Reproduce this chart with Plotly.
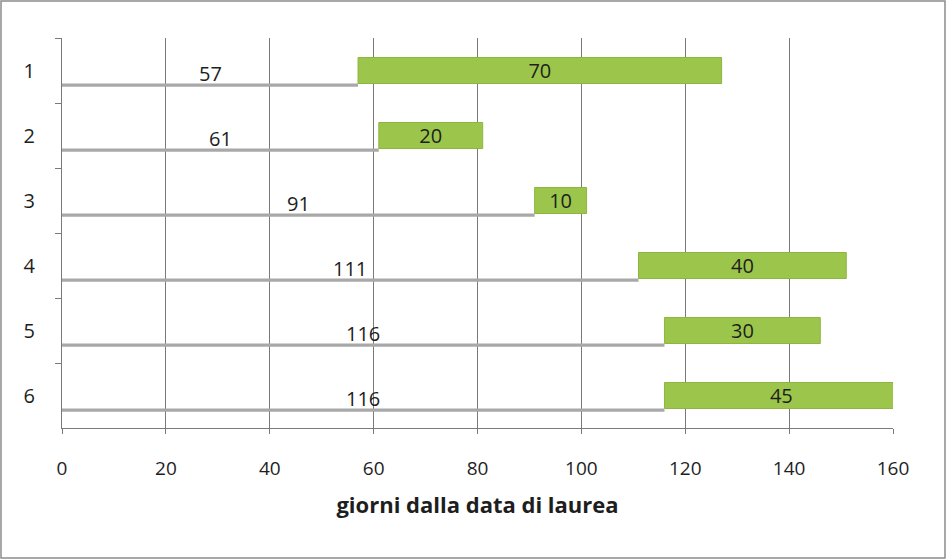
import plotly.graph_objects as go

# Rows of the timeline, top to bottom
categories = ["1", "2", "3", "4", "5", "6"]
# Day on which each period starts (days after graduation)
start_days = [57, 61, 91, 111, 116, 116]
# Length of each period in days
durations = [70, 20, 10, 40, 30, 45]

x_ticks = [0, 20, 40, 60, 80, 100, 120, 140, 160]

W, H = 947, 560
L, R, T, B = 62, 893, 38, 428  # plot-area pixel box

FONT = "'Open Sans', sans-serif"
GREEN = "#9cc64b"
INK = "#1e1e1e"

fig = go.Figure()

# Thin grey baseline running from day 0 to the start of each period
fig.add_trace(go.Bar(
    y=categories, x=start_days, base=0, orientation="h",
    width=0.05, offset=0.2,
    marker=dict(color="#a8a8a8", line=dict(width=0)),
    hoverinfo="skip", showlegend=False,
))

# Green bar for each period, stacked on its start day
fig.add_trace(go.Bar(
    y=categories, x=durations, base=start_days, orientation="h",
    width=0.4, offset=-0.2,
    marker=dict(color=GREEN, line=dict(color="#8db53f", width=1)),
    text=[str(d) for d in durations], textposition="inside",
    insidetextanchor="middle", textangle=0, constraintext="none",
    insidetextfont=dict(family=FONT, size=20, color=INK),
    showlegend=False,
))

# Start-day labels centred on the leading (unfilled) segment
for i, s in enumerate(start_days):
    fig.add_annotation(
        x=s / 2, y=i, text=str(s), showarrow=False, yshift=-3,
        font=dict(family=FONT, size=20, color=INK),
    )

# Outer frame around the whole chart
pw, ph = R - L, B - T
fig.add_shape(
    type="rect", xref="paper", yref="paper",
    x0=(1 - L) / pw, x1=(W - 2 - L) / pw,
    y0=(B - (H - 2)) / ph, y1=1 + (T - 1) / ph,
    line=dict(color="#8c8c8c", width=1.5), layer="below",
)

fig.update_layout(
    width=W, height=H,
    margin=dict(l=L, r=W - R, t=T, b=H - B),
    paper_bgcolor="white", plot_bgcolor="white",
    barmode="overlay",
    font=dict(family=FONT, size=19, color=INK),
    xaxis=dict(
        range=[0, 160], tickvals=x_ticks,
        showgrid=True, gridcolor="#7a7a7a", gridwidth=1,
        showline=True, linecolor="#7a7a7a", linewidth=1,
        ticks="outside", ticklen=5, tickcolor="#7a7a7a",
        ticklabelstandoff=18, zeroline=False,
        tickfont=dict(size=19),
        title=dict(text="<b>giorni dalla data di laurea</b>",
                   font=dict(size=22), standoff=17),
    ),
    yaxis=dict(
        type="category", categoryorder="array", categoryarray=categories,
        autorange=False, range=[5.5, -0.5],
        showgrid=False, showline=True, linecolor="#7a7a7a", linewidth=1,
        ticks="outside", ticklen=6, tickcolor="#7a7a7a", tickson="boundaries",
        ticklabelstandoff=22, tickfont=dict(size=20),
    ),
)

fig.write_html("out.html")
